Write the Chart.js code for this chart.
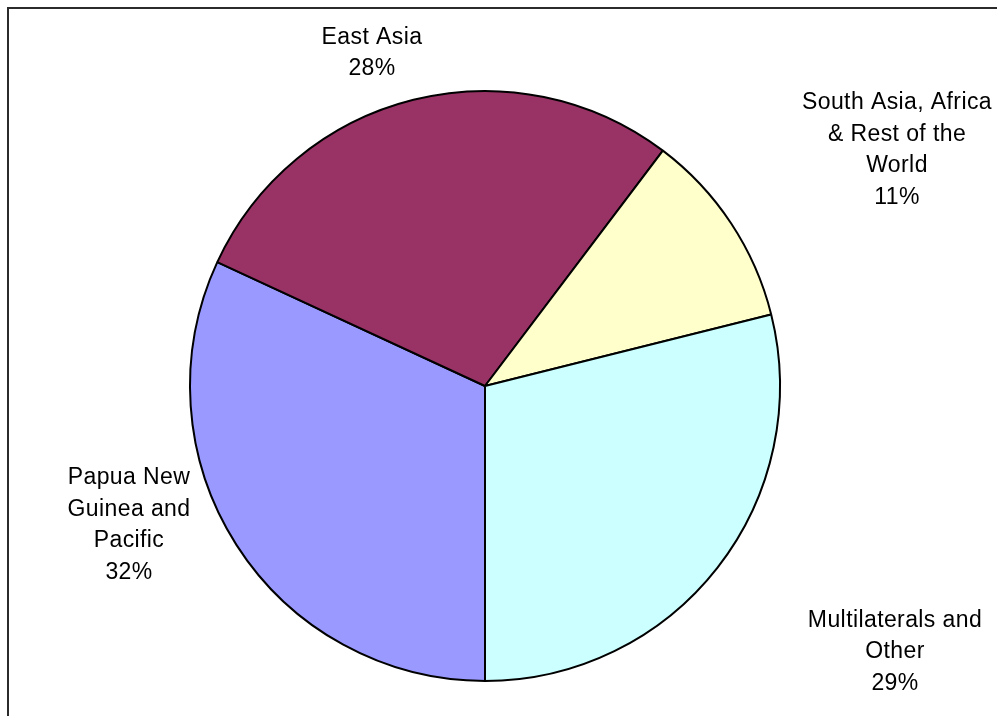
<!DOCTYPE html>
<html>
<head>
<meta charset="utf-8">
<script src="https://cdn.jsdelivr.net/npm/chart.js@4.4.0/dist/chart.umd.min.js"></script>
<style>
  html, body { margin: 0; padding: 0; background: #fff; }
  #wrap { position: relative; width: 997px; height: 716px; }
</style>
</head>
<body>
<div id="wrap"><canvas id="myChart"></canvas></div>
<script>
// slices go clockwise starting from 6 o'clock
const categories = ['Papua New Guinea and Pacific', 'East Asia', 'South Asia, Africa & Rest of the World', 'Multilaterals and Other'];
const shares = [31.9, 28.4, 10.8, 28.9];
const labelLines = [
    ['Papua New', 'Guinea and', 'Pacific'],
    ['East Asia'],
    ['South Asia, Africa', '& Rest of the', 'World'],
    ['Multilaterals and', 'Other']
];
const sliceColors = ['#9999ff', '#993366', '#ffffcc', '#ccffff'];

// where each label block sits, relative to the pie centre
const labelOffsets = [[-356, 139], [-113, -333], [412, -236], [410, 266]];

const framePlugin = {
    id: 'frame',
    beforeDraw(chart) {
        const c = chart.ctx;
        c.save();
        c.strokeStyle = '#2b2b2b';
        c.lineWidth = 2;
        c.beginPath();
        c.moveTo(8, chart.height);
        c.lineTo(8, 8);
        c.lineTo(chart.width, 8);
        c.stroke();
        c.restore();
    }
};

const labelPlugin = {
    id: 'outLabels',
    afterDraw(chart) {
        const c = chart.ctx;
        const arc0 = chart.getDatasetMeta(0).data[0];
        const cx = arc0.x, cy = arc0.y;
        const total = shares.reduce((a, b) => a + b, 0);
        const lh = 31.5;
        c.save();
        c.fillStyle = '#000';
        c.font = '23px "Liberation Sans", Arial, sans-serif';
        c.letterSpacing = '0.4px';
        c.textAlign = 'center';
        c.textBaseline = 'middle';
        shares.forEach((v, i) => {
            const lines = labelLines[i].concat([Math.round(v / total * 100) + '%']);
            const x = cx + labelOffsets[i][0];
            const y0 = cy + labelOffsets[i][1] - (lines.length - 1) * lh / 2;
            lines.forEach((t, k) => c.fillText(t, x, y0 + k * lh));
        });
        c.restore();
    }
};

const ctx = document.getElementById('myChart').getContext('2d');
const myChart = new Chart(ctx, {
    type: 'pie',
    data: {
        labels: categories,
        datasets: [{
            data: shares,
            backgroundColor: sliceColors,
            borderColor: '#000',
            borderWidth: 2
        }]
    },
    options: {
        responsive: true,
        maintainAspectRatio: false,
        animation: false,
        rotation: 180,
        layout: { padding: { left: 189, top: 90, right: 216, bottom: 34 } },
        plugins: {
            legend: { display: false },
            tooltip: { enabled: false }
        }
    },
    plugins: [framePlugin, labelPlugin]
});
</script>
</body>
</html>
